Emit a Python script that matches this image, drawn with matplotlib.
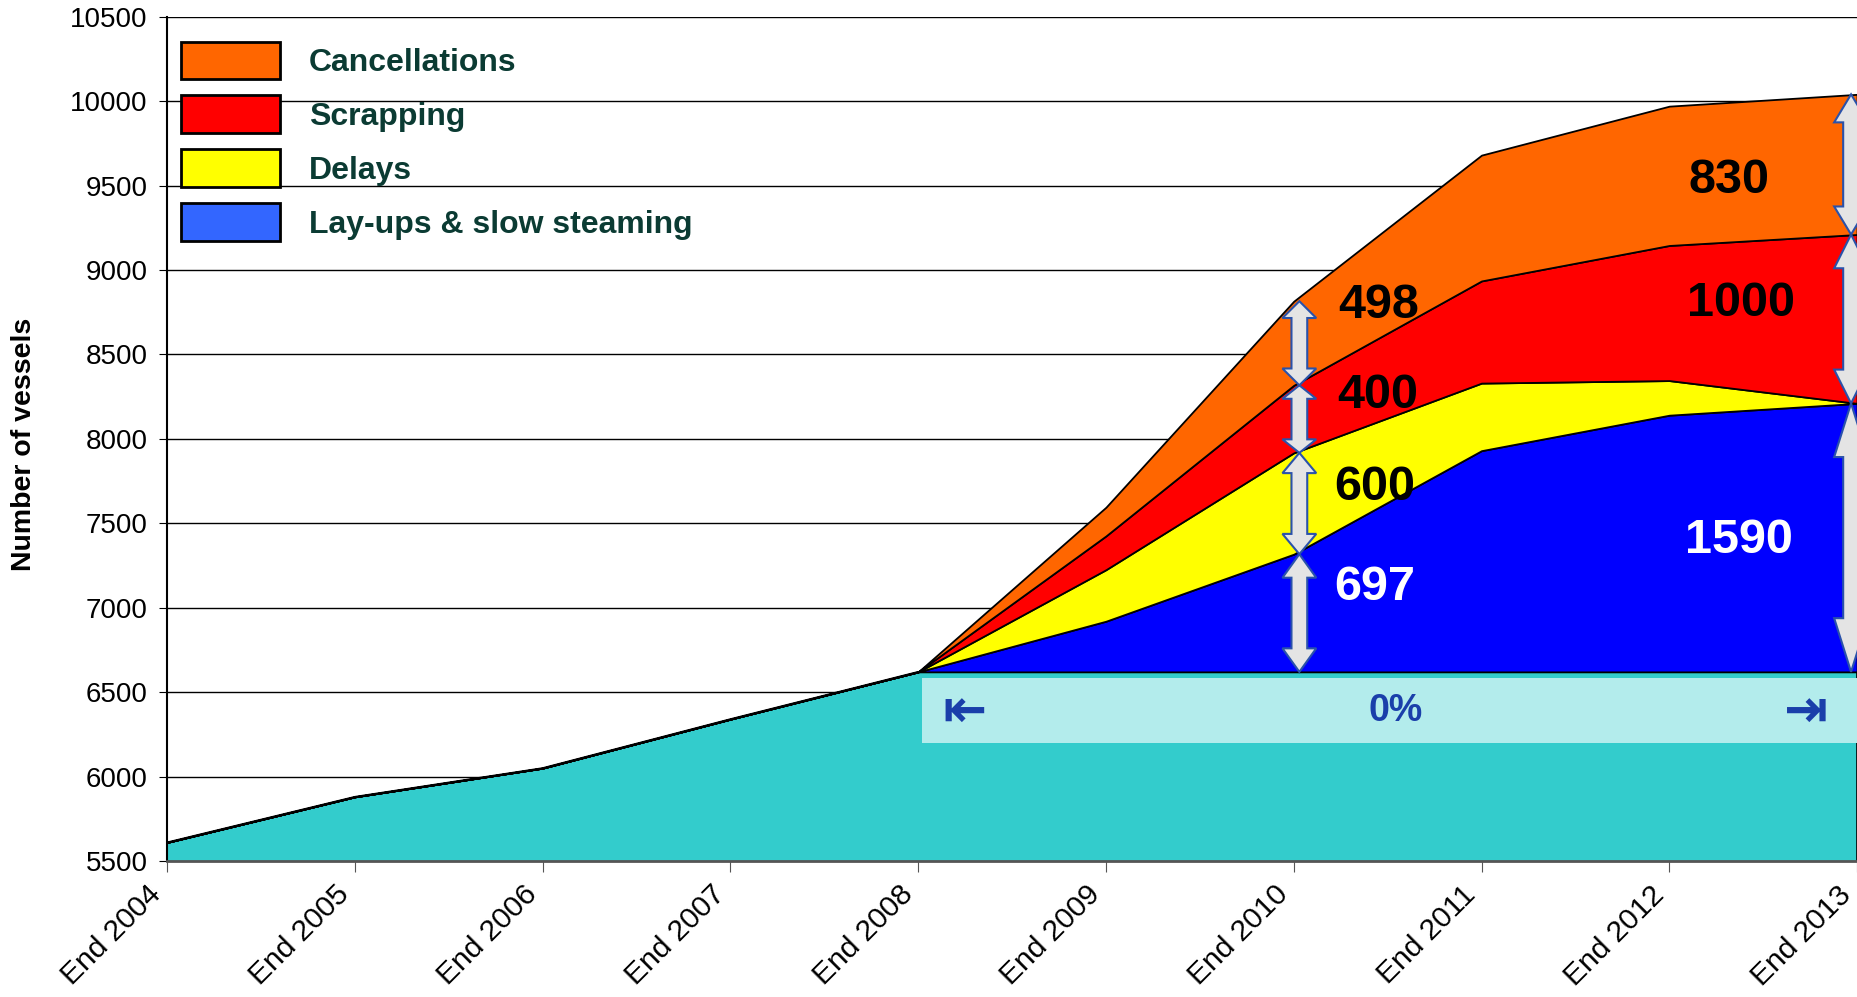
import numpy as np
import matplotlib.pyplot as plt
from matplotlib.patches import Patch, Rectangle, Polygon

plt.rcParams['font.family'] = ['Liberation Sans', 'DejaVu Sans']

### Data (number of vessels, end of year)
years = np.arange(2004, 2014)
year_labels = ['End %d' % y for y in years]

fleet         = [5610, 5880, 6050, 6340, 6620, 6620, 6620, 6620, 6620, 6620]
layups        = [0, 0, 0, 0, 0, 300, 697, 1310, 1520, 1590]
delays        = [0, 0, 0, 0, 0, 305, 600, 400, 205, 0]
scrapping     = [0, 0, 0, 0, 0, 200, 400, 605, 800, 1000]
cancellations = [0, 0, 0, 0, 0, 170, 498, 745, 825, 830]

legend_names  = ['Cancellations', 'Scrapping', 'Delays', 'Lay-ups & slow steaming']
band_label = '0%'

### Colours
c_fleet  = '#33CCCC'
c_layers = ['#0000FF', '#FFFF00', '#FF0000', '#FF6600']   # bottom -> top
c_legend = ['#FF6600', '#FF0000', '#FFFF00', '#3366FF']
c_band   = '#B3ECEC'
c_blue_txt = '#1A3FAA'
c_arrow_face = '#E4E4E4'
c_arrow_edge = '#2A52AA'

### Figure
fig = plt.figure(figsize=(18.58, 9.97), dpi=100)
ax = fig.add_axes([0.0899, 0.1364, 0.9096, 0.8469])

stack = np.vstack([fleet, layups, delays, scrapping, cancellations])
cum = stack.cumsum(axis=0)

ax.stackplot(years, stack, colors=[c_fleet] + c_layers,
             edgecolor='black', linewidth=1.3, zorder=2)

ax.set_xlim(2004, 2013)
ax.set_ylim(5500, 10500)
ax.set_yticks(np.arange(5500, 10501, 500))
ax.set_xticks(years)
ax.set_xticklabels(year_labels, rotation=45, ha='right', va='top')
ax.tick_params(axis='y', labelsize=20, length=6, pad=8, color='black')
ax.tick_params(axis='x', labelsize=21.5, length=8, pad=6, color='#555555')
ax.yaxis.grid(True, color='black', linewidth=1.0)
ax.set_axisbelow(True)
for s in ['top', 'right']:
    ax.spines[s].set_visible(False)
ax.spines['left'].set_linewidth(1.5)
ax.spines['bottom'].set_color('#555555')
ax.spines['bottom'].set_linewidth(2)

### 0% band across the forecast period
ax.add_patch(Rectangle((2008.02, 6200), 2013 - 2008.02, 385,
                       facecolor=c_band, edgecolor='none', zorder=3))
ax.text(2010.54, 6390, band_label, ha='center', va='center', fontsize=27,
        fontweight='bold', color=c_blue_txt, zorder=5)
ax.text(2008.245, 6385, '\u21E4', ha='center', va='center', fontsize=38,
        fontweight='bold', color=c_blue_txt, family='DejaVu Sans', zorder=5)
ax.text(2012.73, 6385, '\u21E5', ha='center', va='center', fontsize=38,
        fontweight='bold', color=c_blue_txt, family='DejaVu Sans', zorder=5)


def double_arrow(xc, y0, y1, ws=0.042, wh=0.09):
    hl = 0.2 * (y1 - y0)
    pts = [(xc, y0), (xc + wh, y0 + hl), (xc + ws, y0 + hl), (xc + ws, y1 - hl),
           (xc + wh, y1 - hl), (xc, y1), (xc - wh, y1 - hl), (xc - ws, y1 - hl),
           (xc - ws, y0 + hl), (xc - wh, y0 + hl)]
    ax.add_patch(Polygon(pts, closed=True, facecolor=c_arrow_face,
                         edgecolor=c_arrow_edge, linewidth=1.5, zorder=4))


# arrows at End 2010 (one per layer)
i10 = list(years).index(2010)
for k in range(1, 5):
    double_arrow(2010.03, cum[k - 1, i10], cum[k, i10])
# arrows at End 2013 (skip empty layers)
i13 = list(years).index(2013)
for k in range(1, 5):
    if stack[k, i13] > 0:
        double_arrow(2012.968, cum[k - 1, i13], cum[k, i13])

# value labels
lab_kw = dict(ha='center', va='center', fontsize=35, fontweight='bold', zorder=6)
ax.text(2010.45, 8789, str(cancellations[i10]), color='black', **lab_kw)
ax.text(2010.45, 8256, str(scrapping[i10]), color='black', **lab_kw)
ax.text(2010.43, 7709, str(delays[i10]), color='black', **lab_kw)
ax.text(2010.43, 7120, str(layups[i10]), color='white', **lab_kw)
ax.text(2012.32, 9532, str(cancellations[i13]), color='black', **lab_kw)
ax.text(2012.38, 8803, str(scrapping[i13]), color='black', **lab_kw)
ax.text(2012.37, 7400, str(layups[i13]), color='white', **lab_kw)

### Legend
handles = [Patch(facecolor=c, edgecolor='black', linewidth=2) for c in c_legend]
ax.legend(handles, legend_names, loc='upper left', bbox_to_anchor=(0.0083, 0.9705),
          frameon=False, borderpad=0, borderaxespad=0,
          prop={'size': 23, 'weight': 'bold'}, labelcolor='#0B3B33',
          handlelength=3.1, handleheight=1.45, labelspacing=0.5,
          handletextpad=0.9)

fig.text(24 / 1858, 1 - 444 / 997, 'Number of vessels', rotation=90,
         ha='center', va='center', fontsize=20.5, fontweight='bold')

fig.savefig('out.png', dpi=100)
